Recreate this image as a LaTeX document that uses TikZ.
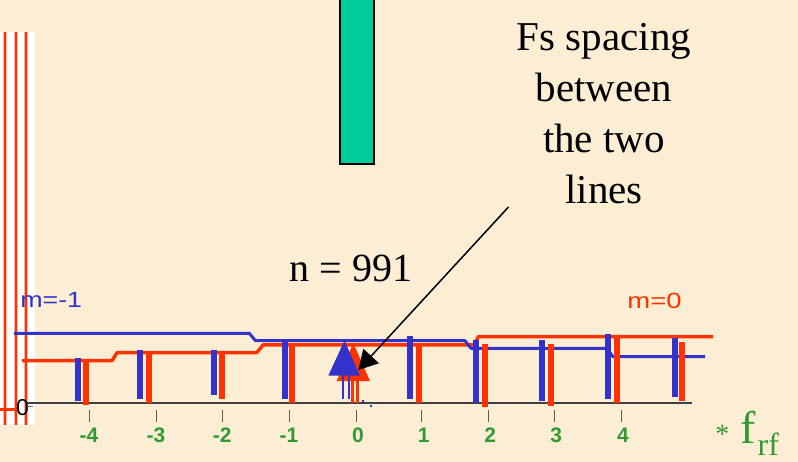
\documentclass[tikz,border=0pt]{standalone}
\usepackage{fontspec}
\setmainfont{Liberation Serif}
\newfontfamily\arialf{Liberation Sans}
\usetikzlibrary{arrows.meta}
\definecolor{bgcol}{RGB}{251,238,212}
\definecolor{mblue}{RGB}{51,51,204}
\definecolor{mred}{RGB}{255,51,0}
\definecolor{lgreen}{RGB}{51,153,51}
\definecolor{slotgreen}{RGB}{0,204,153}
\begin{document}
\begin{tikzpicture}[x=1pt,y=-1pt,
  bluebar/.style={mblue,line width=6pt},
  redbar/.style={mred,line width=6pt},
  tickmark/.style={black!65,line width=1pt},
  ticklabel/.style={text=lgreen,font=\arialf\bfseries\fontsize{21}{21}\selectfont,inner sep=0pt},
  mlabel/.style={font=\arialf\fontsize{22}{22}\selectfont,inner sep=0pt},
  serifbig/.style={font=\fontsize{41}{51}\selectfont,inner sep=0pt}]
\fill[bgcol] (0,0) rectangle (798,462);
\useasboundingbox (0,0) rectangle (798,462);
% left white strip with red lines
\fill[white] (0,32) rectangle (35,425);
\foreach \x in {5,15.7,26}{
  \draw[mred!35,line width=4pt] (\x,32) -- (\x,425);
  \draw[mred,line width=1.6pt] (\x,32) -- (\x,425);
}
\draw[mred,line width=3pt] (0,409) -- (17,409);
\node[mlabel,font=\arialf\fontsize{23}{23}\selectfont] (zero) at (22.5,408) {0};
% green rectangle
\draw[black,line width=1.5pt,fill=slotgreen] (340,-3) rectangle (374,164);
% axis
\draw[black!75,line width=1.3pt] (27,403) -- (692,403);
\draw[black!60,line width=0.8pt] (27,406.5) -- (33,406.5);
% ticks and labels
\foreach \x/\t/\dx in {89/-4/0,156/-3/0,222.3/-2/0,289/-1/0,356/0/2,421.7/1/2,488.3/2/2,554.3/3/2,621/4/2}{
  \draw[tickmark] (\x,410) -- (\x,422);
  \node[ticklabel] (lab\t) at (\x+\dx,435) {\t};
}
% staircase lines
\draw[mred,line width=3.5pt,line join=round] (22,360.7) -- (112,360.7) -- (117,352.7) -- (256.7,352.7) -- (263,345) -- (474,345) -- (478.3,336.7) -- (713,336.7);
\draw[mblue,line width=3pt,line join=round] (14,333.3) -- (249.3,333.3) -- (255.5,340.7) -- (465,340.7) -- (471,348.3) -- (606.7,348.3) -- (613,356.7) -- (705,356.7);
% red bars
\foreach \x/\a/\b in {86/360.7/405,148.7/352.7/403.3,222/352/399,292/345/402.7,419/345/403.3,485/344/407.3,551/344/405.7,617/338.3/403.3,682/342/400.7}{
  \draw[redbar] (\x,\a) -- (\x,\b);
}
% blue bars
\foreach \x/\a/\b in {78/358/400.7,140/350/399,214/350/395,284.5/340/399,410/336/399,476/340/403.3,541.7/340/400.7,608/334/399,674.5/338.3/396.7}{
  \draw[bluebar] (\x,\a) -- (\x,\b);
}
% red arrow (triangle + double stem)
\fill[mred] (336.7,381) -- (353.3,343) -- (370,381) -- cycle;
\draw[mred,line width=2.5pt] (352.3,381) -- (352.3,402.7);
\draw[mred,line width=2.5pt] (357.3,381) -- (357.3,402.7);
% blue arrow
\fill[mblue] (328.3,375.7) -- (344.5,340.5) -- (360,375.7) -- cycle;
\draw[mblue,line width=2pt] (343.3,375.7) -- (343.3,399);
\draw[mblue,line width=2pt] (349.3,375.7) -- (349.3,399);
\fill[mblue] (362,400) rectangle (364,402);
\fill[mblue] (370,405) rectangle (372,407);
% labels
\node[mlabel,text=mblue] (mminus) at (51.2,300) {\scalebox{1.22}[1]{m=-1}};
\node[mlabel,text=mred] (mzero) at (654.5,300.5) {\scalebox{1.25}[1]{m=0}};
\node[font=\fontsize{40}{40}\selectfont,inner sep=0pt,anchor=base] (nlab) at (350.8,281.7) {n = 991};
\node[serifbig,align=center,anchor=base] (fs) at (604,203.3) {Fs spacing\\between\\the two\\lines};
% arrow
\coordinate (astart) at (508.5,207);
\coordinate (atip) at (358.3,370);
\draw[black,line width=1.5pt,-{Triangle[length=19pt,width=21pt]}] (astart) -- (atip);
% * f_rf
\node[text=lgreen,font=\fontsize{28}{28}\selectfont,inner sep=0pt,anchor=base] (star) at (722.4,443) {*};
\node[text=lgreen,font=\fontsize{46}{46}\selectfont,inner sep=0pt,anchor=base west] (fsym) at (740.5,443.3) {f};
\node[text=lgreen,font=\fontsize{32}{32}\selectfont,inner sep=0pt,anchor=base west] (rfsub) at (757.5,455) {rf};
\end{tikzpicture}
\end{document}
